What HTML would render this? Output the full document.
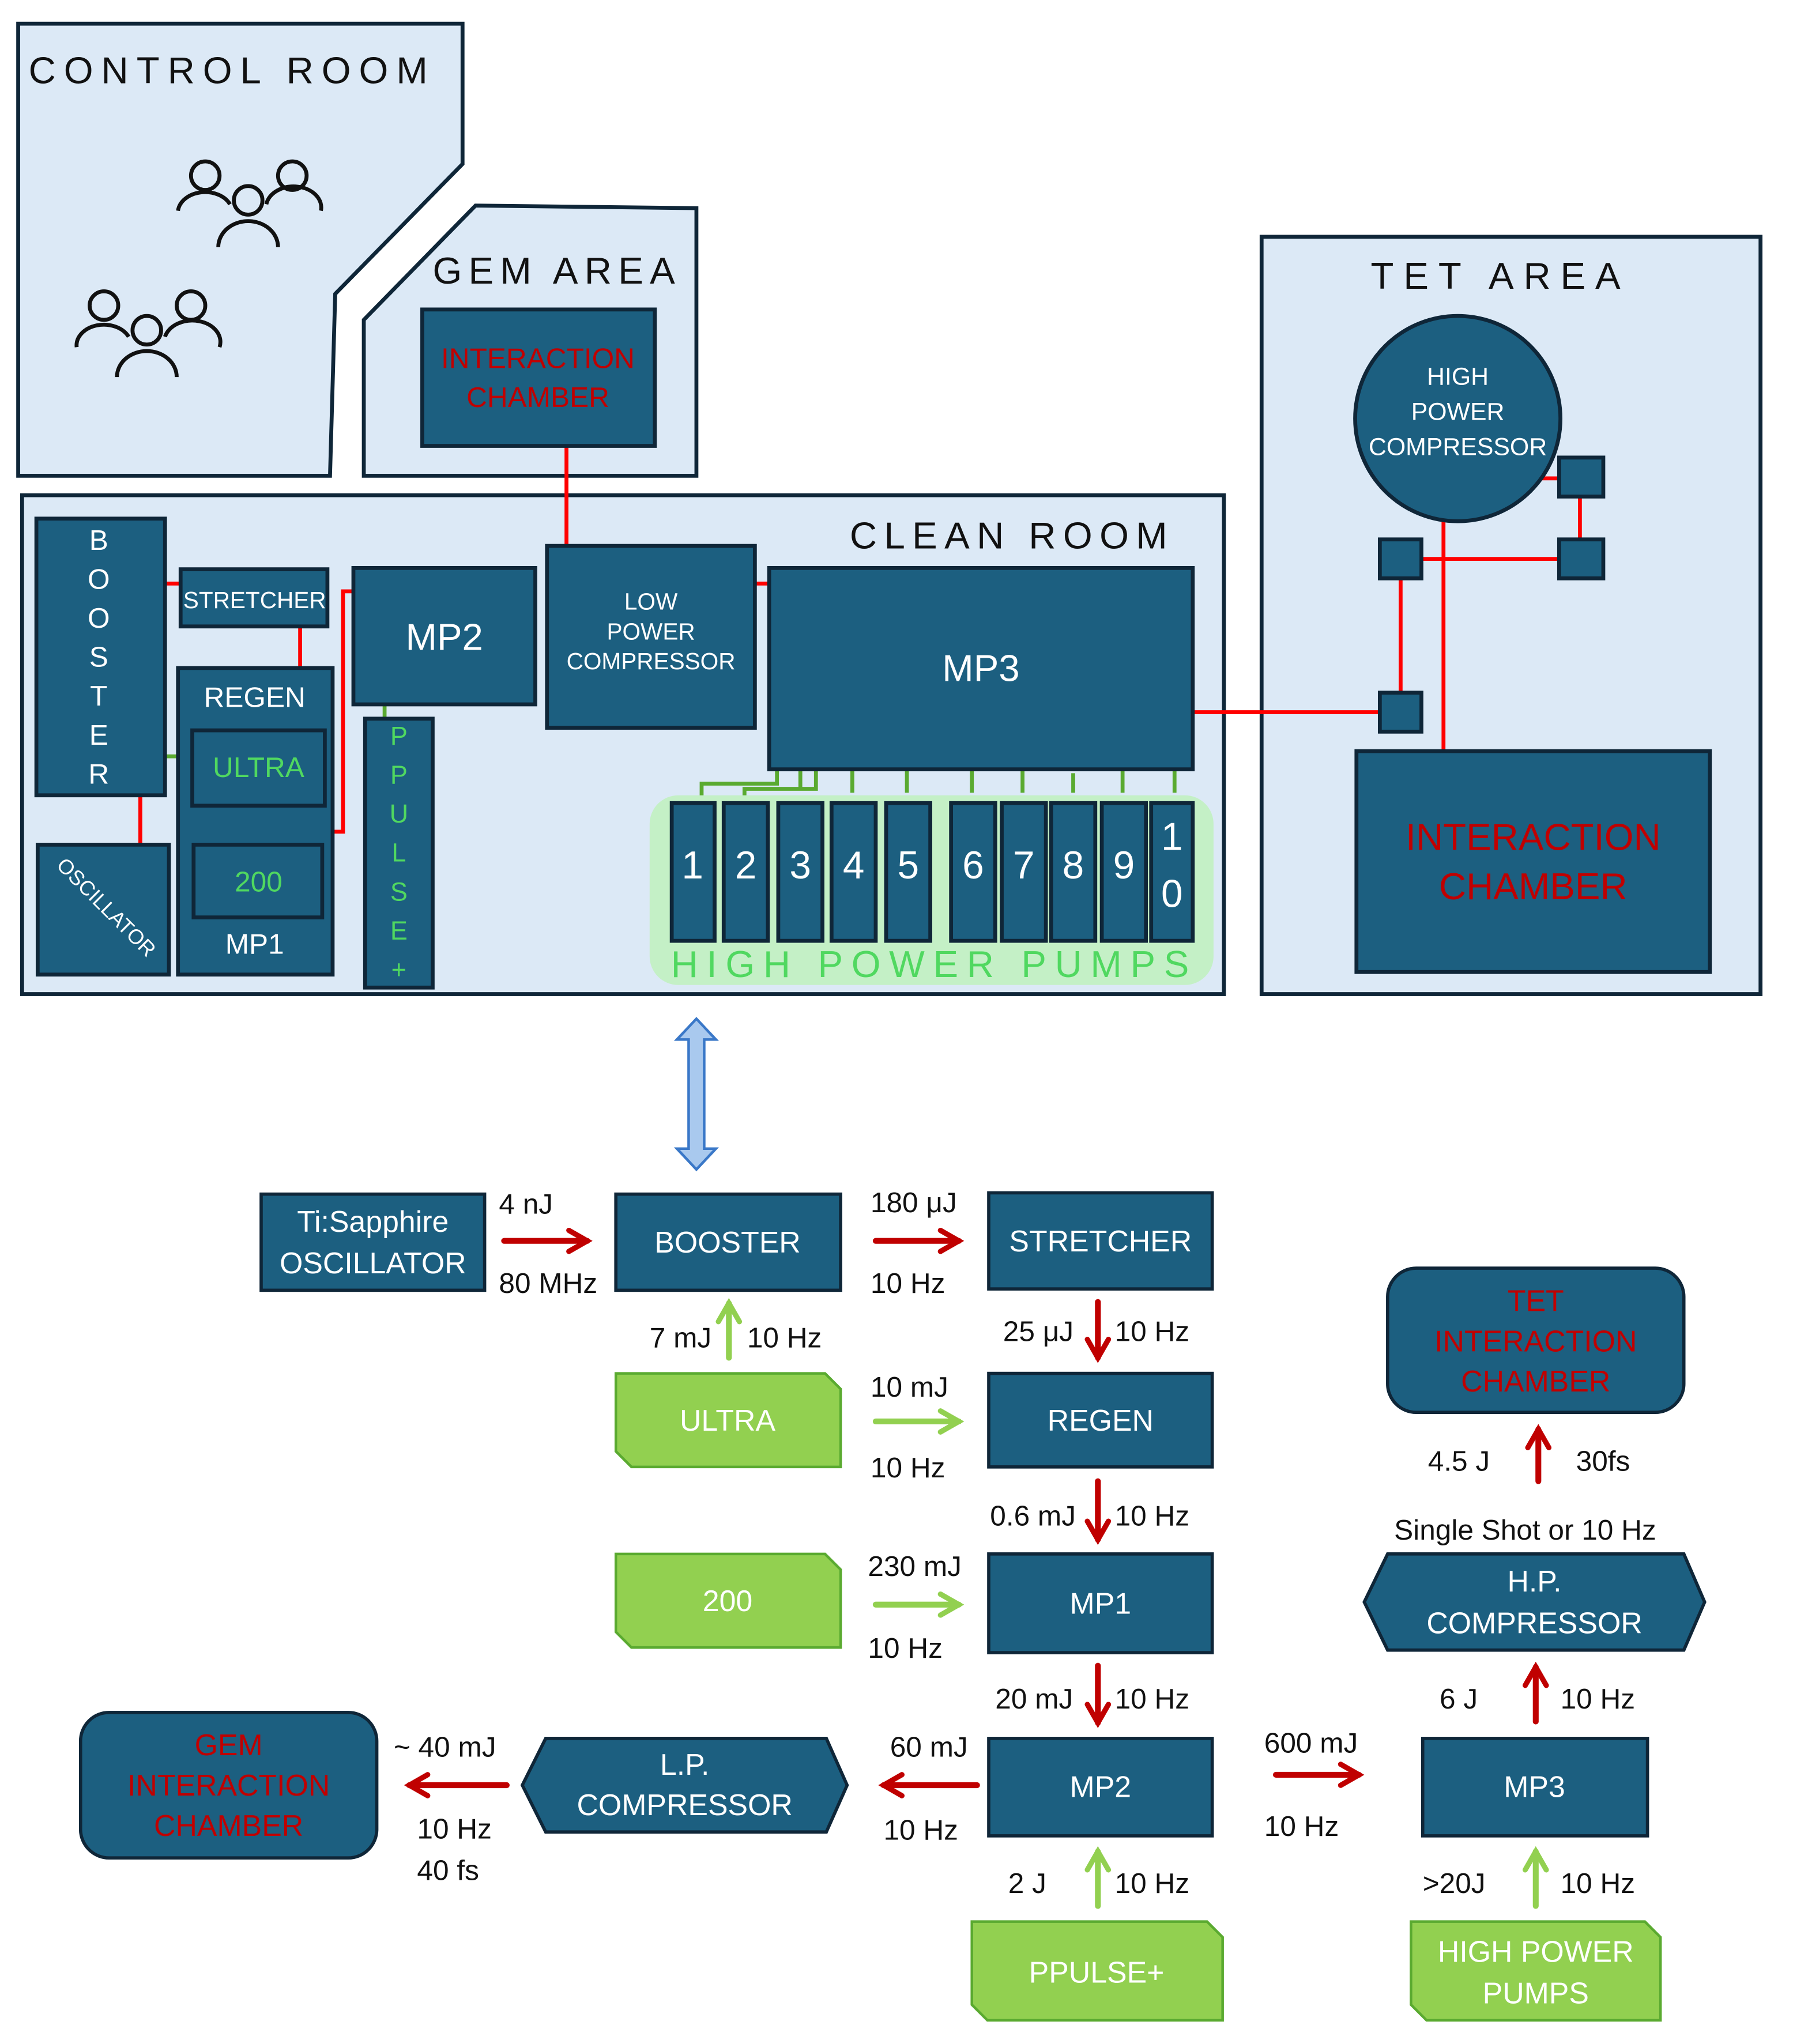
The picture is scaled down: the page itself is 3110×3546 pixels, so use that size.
<!DOCTYPE html>
<html><head><meta charset="utf-8"><style>html,body{margin:0;padding:0;background:#fff}svg{display:block}</style></head>
<body>
<svg xmlns="http://www.w3.org/2000/svg" width="3110" height="3546" viewBox="0 0 1380 1573" font-family="Liberation Sans, sans-serif">
<defs>
<marker id="ar" viewBox="0 0 10 10" refX="8" refY="5" markerWidth="4.5" markerHeight="4.5" orient="auto"><path d="M1,1 L8,5 L1,9" fill="none" stroke="#c00000" stroke-width="2" stroke-linecap="round"/></marker>
<marker id="ag" viewBox="0 0 10 10" refX="8" refY="5" markerWidth="4.5" markerHeight="4.5" orient="auto"><path d="M1,1 L8,5 L1,9" fill="none" stroke="#92d050" stroke-width="2" stroke-linecap="round"/></marker>
</defs>
<rect width="1380" height="1573" fill="#fff"/>
<g stroke="#0f2638" stroke-width="3" fill="#dce9f6">
<polygon points="14,18 356,18 356,126 258,226 254,366 14,366"/>
<polygon points="366,158 536,160 536,366 280,366 280,246"/>
<rect x="17" y="381" width="925" height="384"/>
<rect x="971" y="182" width="384" height="583"/>
</g>
<g font-size="29" fill="#111">
<text x="22" y="64" letter-spacing="6.2">CONTROL  ROOM</text>
<text x="333" y="218" letter-spacing="5">GEM AREA</text>
<text x="654" y="422" letter-spacing="5.5">CLEAN ROOM</text>
<text x="1055" y="222" letter-spacing="7.5">TET  AREA</text>
</g>
<g fill="none" stroke="#111" stroke-width="3">
<g transform="translate(135,122)"><circle cx="23" cy="13" r="11"/><circle cx="90" cy="13" r="11"/><circle cx="56" cy="32" r="11"/><path d="M2,40 a21,16 0 0 1 40,-5 M70,35 a21,16 0 0 1 42,5 M33,68 a23,20 0 0 1 46,0"/></g>
<g transform="translate(57,222)"><circle cx="23" cy="13" r="11"/><circle cx="90" cy="13" r="11"/><circle cx="56" cy="32" r="11"/><path d="M2,45 a21,16 0 0 1 40,-8 M70,37 a21,16 0 0 1 42,8 M33,68 a23,20 0 0 1 46,0"/></g>
</g>
<g stroke="#ff0000" stroke-width="3" fill="none">
<path d="M436,343 V420"/><path d="M127,449 H139"/><path d="M231,482 V514"/><path d="M108,612 V650"/>
<path d="M256,640 H264 V455 H272"/><path d="M581,449 H592"/><path d="M918,548 H1062"/>
<path d="M1182,368 H1216 V430"/><path d="M1078,548 V430 H1216"/><path d="M1111,400 V578"/>
</g>
<g stroke="#5aaa30" stroke-width="3" fill="none">
<path d="M127,582 H148"/><path d="M296,542 V553"/>
<path d="M540,618 V603 H598 V592"/><path d="M573,618 V607 H628 V592"/><path d="M616,607 V592"/>
<path d="M656,610 V592 M698,610 V592 M748,610 V592 M787,610 V592 M826,610 V595 M864,610 V592 M904,610 V592"/>
</g>
<g fill="#1c5f80" stroke="#0f2638" stroke-width="3">
<rect x="325" y="238" width="179" height="105"/>
<rect x="28" y="399" width="99" height="213"/>
<rect x="139" y="438" width="113" height="44"/>
<rect x="137" y="514" width="119" height="236"/>
<rect x="148" y="562" width="102" height="58"/>
<rect x="149" y="650" width="99" height="56"/>
<rect x="29" y="650" width="101" height="100"/>
<rect x="272" y="437" width="140" height="105"/>
<rect x="281" y="553" width="52" height="207"/>
<rect x="421" y="420" width="160" height="140"/>
<rect x="592" y="437" width="326" height="155"/>
<circle cx="1122" cy="322" r="79"/>
<rect x="1200" y="352" width="34" height="30"/><rect x="1200" y="415" width="34" height="30"/>
<rect x="1062" y="415" width="32" height="30"/><rect x="1062" y="533" width="32" height="30"/>
<rect x="1044" y="578" width="272" height="170"/>
</g>
<rect x="500" y="612" width="434" height="146" rx="22" fill="#c4f0c6"/>
<g fill="#1c5f80" stroke="#0f2638" stroke-width="3">
<rect x="517" y="618" width="33" height="106"/><rect x="557" y="618" width="34" height="106"/><rect x="599" y="618" width="34" height="106"/><rect x="640" y="618" width="34" height="106"/><rect x="682" y="618" width="34" height="106"/>
<rect x="732" y="618" width="34" height="106"/><rect x="771" y="618" width="34" height="106"/><rect x="809" y="618" width="34" height="106"/><rect x="848" y="618" width="34" height="106"/><rect x="886" y="618" width="32" height="106"/>
</g>
<g fill="#fff" font-size="30" text-anchor="middle">
<text x="533" y="676">1</text><text x="574" y="676">2</text><text x="616" y="676">3</text><text x="657" y="676">4</text><text x="699" y="676">5</text>
<text x="749" y="676">6</text><text x="788" y="676">7</text><text x="826" y="676">8</text><text x="865" y="676">9</text><text x="902" y="654">1</text><text x="902" y="698">0</text>
</g>
<text x="719" y="752" text-anchor="middle" font-size="29" fill="#50d860" letter-spacing="6.5">HIGH POWER PUMPS</text>
<g fill="#fff" text-anchor="middle">
<g font-size="22"><text x="76" y="423">B</text><text x="76" y="453">O</text><text x="76" y="483">O</text><text x="76" y="513">S</text><text x="76" y="543">T</text><text x="76" y="573">E</text><text x="76" y="603">R</text></g>
<text x="196" y="468" font-size="18">STRETCHER</text>
<text x="196" y="544" font-size="22">REGEN</text>
<text x="196" y="734" font-size="22">MP1</text>
<text x="342" y="500" font-size="29">MP2</text>
<text x="755" y="524" font-size="29">MP3</text>
<g font-size="18"><text x="501" y="469">LOW</text><text x="501" y="492">POWER</text><text x="501" y="515">COMPRESSOR</text></g>
<g font-size="19"><text x="1122" y="296">HIGH</text><text x="1122" y="323">POWER</text><text x="1122" y="350">COMPRESSOR</text></g>
<text transform="translate(78,702) rotate(45)" font-size="16">OSCILLATOR</text>
</g>
<g fill="#50d860" text-anchor="middle">
<text x="199" y="598" font-size="22">ULTRA</text><text x="199" y="686" font-size="22">200</text>
<g font-size="20"><text x="307" y="573">P</text><text x="307" y="603">P</text><text x="307" y="633">U</text><text x="307" y="663">L</text><text x="307" y="693">S</text><text x="307" y="723">E</text><text x="307" y="753">+</text></g>
</g>
<g fill="#c00000" text-anchor="middle">
<text x="414" y="283" font-size="22">INTERACTION</text><text x="414" y="313" font-size="22">CHAMBER</text>
<text x="1180" y="654" font-size="29">INTERACTION</text><text x="1180" y="692" font-size="29">CHAMBER</text>
</g>
<polygon points="536,784 551,800 542,800 542,884 551,884 536,900 521,884 530,884 530,800 521,800" fill="#a9c9ee" stroke="#3a78c8" stroke-width="2"/>
<g fill="#1c5f80" stroke="#0f2638" stroke-width="2.5">
<rect x="201" y="919" width="172" height="74"/>
<rect x="474" y="919" width="173" height="74"/>
<rect x="761" y="918" width="172" height="74"/>
<rect x="761" y="1057" width="172" height="72"/>
<rect x="761" y="1196" width="172" height="76"/>
<rect x="761" y="1338" width="172" height="75"/>
<rect x="1095" y="1338" width="173" height="75"/>
<polygon points="420,1338 636,1338 652,1374 636,1410 420,1410 402,1374"/>
<polygon points="1068,1196 1296,1196 1312,1233 1296,1270 1068,1270 1050,1233"/>
<rect x="62" y="1318" width="228" height="112" rx="22"/>
<rect x="1068" y="976" width="228" height="111" rx="22"/>
</g>
<g fill="#92d050" stroke="#5aaa30" stroke-width="2">
<polygon points="474,1057 635,1057 647,1069 647,1129 486,1129 474,1117"/>
<polygon points="474,1196 635,1196 647,1208 647,1268 486,1268 474,1256"/>
<polygon points="748,1479 929,1479 941,1491 941,1555 760,1555 748,1543"/>
<polygon points="1086,1479 1266,1479 1278,1491 1278,1555 1098,1555 1086,1543"/>
</g>
<g fill="#fff" text-anchor="middle" font-size="23">
<text x="287" y="948">Ti:Sapphire</text><text x="287" y="980">OSCILLATOR</text>
<text x="560" y="964">BOOSTER</text><text x="847" y="963">STRETCHER</text>
<text x="560" y="1101">ULTRA</text><text x="847" y="1101">REGEN</text>
<text x="560" y="1240">200</text><text x="847" y="1242">MP1</text>
<text x="847" y="1383">MP2</text><text x="1181" y="1383">MP3</text>
<text x="527" y="1366">L.P.</text><text x="527" y="1397">COMPRESSOR</text>
<text x="1181" y="1225">H.P.</text><text x="1181" y="1257">COMPRESSOR</text>
<text x="844" y="1526">PPULSE+</text>
<text x="1182" y="1510">HIGH POWER</text><text x="1182" y="1542">PUMPS</text>
</g>
<g fill="#c00000" text-anchor="middle" font-size="23">
<text x="176" y="1351">GEM</text><text x="176" y="1382">INTERACTION</text><text x="176" y="1413">CHAMBER</text>
<text x="1182" y="1009">TET</text><text x="1182" y="1040">INTERACTION</text><text x="1182" y="1071">CHAMBER</text>
</g>
<g stroke="#c00000" stroke-width="4.5" fill="none" marker-end="url(#ar)" stroke-linecap="round">
<path d="M388,955 H452"/><path d="M674,955 H738"/><path d="M845,1002 V1045"/><path d="M845,1140 V1185"/>
<path d="M845,1282 V1326"/><path d="M752,1374 H680"/><path d="M390,1374 H315"/><path d="M982,1366 H1046"/>
<path d="M1182,1325 V1283"/><path d="M1184,1140 V1100"/>
</g>
<g stroke="#92d050" stroke-width="4.5" fill="none" marker-end="url(#ag)" stroke-linecap="round">
<path d="M561,1045 V1003"/><path d="M674,1094 H738"/><path d="M674,1235 H738"/><path d="M845,1467 V1425"/><path d="M1182,1467 V1425"/>
</g>
<g fill="#111" font-size="22">
<text x="384" y="934">4 nJ</text><text x="384" y="995">80 MHz</text>
<text x="670" y="933">180 μJ</text><text x="670" y="995">10 Hz</text>
<text x="772" y="1032">25 μJ</text><text x="858" y="1032">10 Hz</text>
<text x="500" y="1037">7 mJ</text><text x="575" y="1037">10 Hz</text>
<text x="670" y="1075">10 mJ</text><text x="670" y="1137">10 Hz</text>
<text x="762" y="1174">0.6 mJ</text><text x="858" y="1174">10 Hz</text>
<text x="668" y="1213">230 mJ</text><text x="668" y="1276">10 Hz</text>
<text x="766" y="1315">20 mJ</text><text x="858" y="1315">10 Hz</text>
<text x="685" y="1352">60 mJ</text><text x="680" y="1416">10 Hz</text>
<text x="303" y="1352">~ 40 mJ</text><text x="321" y="1415">10 Hz</text><text x="321" y="1447">40 fs</text>
<text x="973" y="1349">600 mJ</text><text x="973" y="1413">10 Hz</text>
<text x="776" y="1457">2 J</text><text x="858" y="1457">10 Hz</text>
<text x="1095" y="1457">&gt;20J</text><text x="1201" y="1457">10 Hz</text>
<text x="1108" y="1315">6  J</text><text x="1201" y="1315">10 Hz</text>
<text x="1073" y="1185">Single Shot or 10 Hz</text>
<text x="1099" y="1132">4.5 J</text><text x="1213" y="1132">30fs</text>
</g>
</svg>
</body></html>
